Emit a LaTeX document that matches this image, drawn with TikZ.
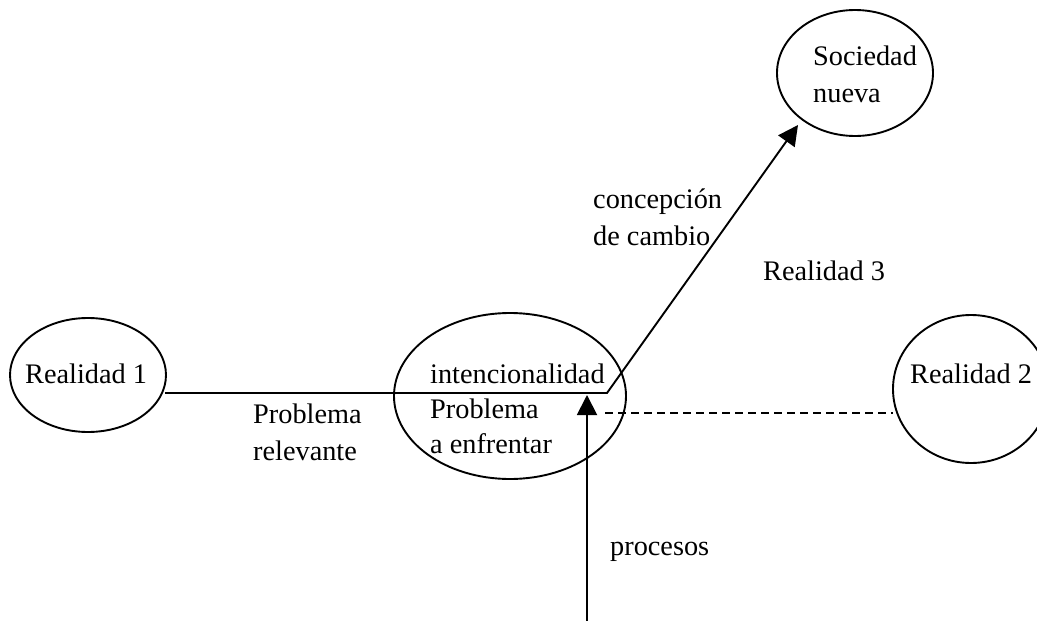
\documentclass[tikz,border=0pt]{standalone}
\usepackage{fontspec}
\setmainfont{Liberation Serif}
\usetikzlibrary{arrows.meta,shapes.geometric}
\tikzset{
  ell/.style={draw, ellipse, line width=1.9pt, inner sep=0pt},
  lbl/.style={anchor=base west, inner sep=0pt, font=\fontsize{28.3}{34}\selectfont},
  conn/.style={line width=1.9pt},
  tip/.style={-{Triangle[length=20pt,width=20pt]}},
}
\begin{document}
\begin{tikzpicture}[x=1pt,y=-1pt]
\useasboundingbox (0,0) rectangle (1037,621);
% ellipses
\node[ell, minimum width=156pt, minimum height=114pt] (r1) at (88,375) {};
\node[ell, minimum width=232pt, minimum height=166pt] (c) at (510,396) {};
\node[ell, minimum width=156pt, minimum height=148pt] (r2) at (971,389) {};
\node[ell, minimum width=156pt, minimum height=126pt] (s) at (855,73) {};
% texts
\node[lbl] (t1) at (25,383) {Realidad 1};
\node[lbl] (t2) at (910,383) {Realidad 2};
\node[lbl] (t3) at (813,65) {Sociedad};
\node[lbl] (t4) at (813,102) {nueva};
\node[lbl] (t5) at (430,383) {intencionalidad};
\node[lbl] (t6) at (430,418) {Problema};
\node[lbl] (t7) at (430,453) {a enfrentar};
\node[lbl] (t8) at (593,208) {concepción};
\node[lbl] (t9) at (593,245) {de cambio};
\node[lbl] (t10) at (763,280) {Realidad 3};
\node[lbl] (t11) at (253,423) {Problema};
\node[lbl] (t12) at (253,460) {relevante};
\node[lbl] (t13) at (610,555) {procesos};
% connector points
\coordinate (r1out) at (165,393);
\coordinate (corner) at (607,393);
\coordinate (stip) at (798,125);
\coordinate (pstart) at (587,621);
\coordinate (ptip) at (587,395);
\coordinate (dstart) at (605,413);
\coordinate (r2in) at (893,413);
% connectors
\draw[conn, tip] (r1out) -- (corner) -- (stip);
\draw[conn, tip] (pstart) -- (ptip);
\draw[conn, dash pattern=on 8pt off 5pt] (dstart) -- (r2in);
\end{tikzpicture}
\end{document}
